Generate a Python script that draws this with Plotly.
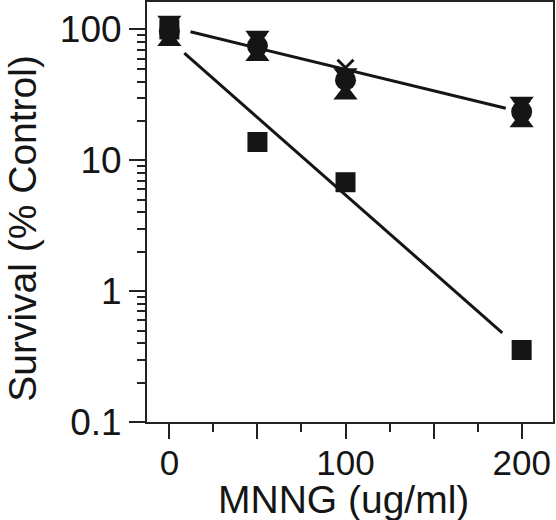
import plotly.graph_objects as go

# Data
doses = [0, 50, 100, 200]
sq_vals = [100, 13.8, 6.8, 0.355]
circ_vals = [97, 75, 41, 23.5]
triup_vals = [82, 63, 32, 19.6]
tridn_vals = [116, 89, 46, 27.9]
x_vals = [100, 80, 51, 25]

# fitted lines (end points)
fit_hi_x = [12, 191]
fit_hi_y = [96, 25]
fit_sq_x = [8.5, 189]
fit_sq_y = [66, 0.48]

y_major = [0.1, 1, 10, 100]
y_major_text = ["0.1", "1", "10", "100"]
y_minor = [0.2, 0.3, 0.4, 0.5, 0.6, 0.7, 0.8, 0.9,
           2, 3, 4, 5, 6, 7, 8, 9,
           20, 30, 40, 50, 60, 70, 80, 90]
x_major = [0, 50, 100, 150, 200]
x_major_text = ["0", "", "100", "", "200"]
x_minor = [25, 75, 125, 175]

x_title = "MNNG (ug/ml)"
y_title = "Survival (% Control)"

INK = "#151515"
AX = "#222222"
FONT = "Liberation Sans, Arial, sans-serif"

fig = go.Figure()
fig.add_trace(go.Scatter(x=fit_hi_x, y=fit_hi_y, mode="lines",
                         line=dict(color=INK, width=3), showlegend=False))
fig.add_trace(go.Scatter(x=fit_sq_x, y=fit_sq_y, mode="lines",
                         line=dict(color=INK, width=3), showlegend=False))

fig.add_trace(go.Scatter(x=doses, y=sq_vals, mode="markers",
                         marker=dict(symbol="square", size=20, color=INK, line=dict(width=0)),
                         showlegend=False))
fig.add_trace(go.Scatter(x=doses, y=triup_vals, mode="markers",
                         marker=dict(symbol="triangle-up", size=21, color=INK, line=dict(width=0)),
                         showlegend=False))
fig.add_trace(go.Scatter(x=doses, y=tridn_vals, mode="markers",
                         marker=dict(symbol="triangle-down", size=21, color=INK, line=dict(width=0)),
                         showlegend=False))
fig.add_trace(go.Scatter(x=doses, y=circ_vals, mode="markers",
                         marker=dict(symbol="circle", size=21, color=INK, line=dict(width=0)),
                         showlegend=False))
fig.add_trace(go.Scatter(x=doses, y=x_vals, mode="markers",
                         marker=dict(symbol="x-thin", size=16, color=INK,
                                     line=dict(width=3, color=INK)),
                         showlegend=False))

fig.update_layout(
    width=556, height=520,
    margin=dict(l=147, r=3, t=2, b=98, autoexpand=False),
    paper_bgcolor="white", plot_bgcolor="white",
    font=dict(family=FONT, color=INK),
    xaxis=dict(
        range=[-12.7, 217.8], showgrid=False, zeroline=False, automargin=False,
        showline=True, linecolor=AX, linewidth=2, mirror=True,
        tickmode="array", tickvals=x_major, ticktext=x_major_text,
        ticks="outside", ticklen=15, tickwidth=2, tickcolor=AX,
        ticklabelstandoff=-6,
        tickfont=dict(size=35, family=FONT, color=INK),
        minor=dict(tickvals=x_minor, ticks="outside", ticklen=8, tickwidth=2, tickcolor=AX),
    ),
    yaxis=dict(
        type="log", range=[-1, 2.21], showgrid=False, zeroline=False, automargin=False,
        showline=True, linecolor=AX, linewidth=2, mirror=True,
        tickmode="array", tickvals=y_major, ticktext=y_major_text,
        ticks="outside", ticklen=16, tickwidth=2, tickcolor=AX,
        tickfont=dict(size=37, family=FONT, color=INK),
        minor=dict(tickvals=y_minor, ticks="outside", ticklen=8, tickwidth=2, tickcolor=AX),
    ),
    annotations=[
        dict(text=x_title, xref="paper", yref="paper", x=0.484, y=0,
             xanchor="center", yanchor="middle", yshift=-77, showarrow=False,
             font=dict(size=39, family=FONT, color=INK)),
        dict(text=y_title, xref="paper", yref="paper", x=0, y=0.46,
             xanchor="center", yanchor="middle", xshift=-124, textangle=-90,
             showarrow=False, font=dict(size=39, family=FONT, color=INK)),
    ],
)

fig.write_html("out.html", config={"displayModeBar": False},
               post_script="document.body.style.margin='0';document.body.style.overflow='hidden';")
